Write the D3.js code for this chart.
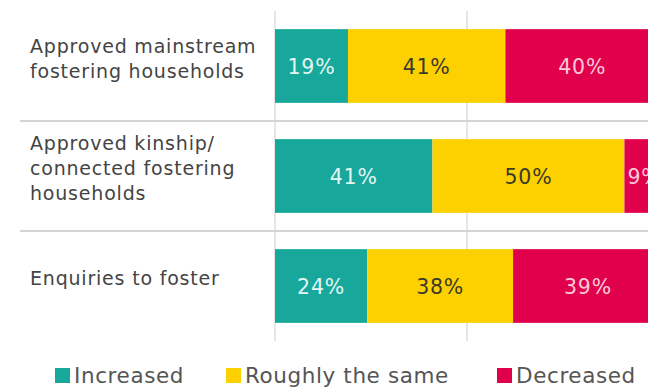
<!DOCTYPE html>
<html>
<head>
<meta charset="utf-8">
<script src="https://cdn.jsdelivr.net/npm/d3@7"></script>
<style>
  html, body { margin: 0; padding: 0; background: #fff; }
  svg { display: block; }
  text { font-family: "DejaVu Sans", "Noto Sans", sans-serif; }
</style>
</head>
<body>
<svg id="chart" width="648" height="389"></svg>
<script>
// Survey rows: share of services reporting each direction of change
const categories = [
  ["Approved mainstream", "fostering households"],
  ["Approved kinship/", "connected fostering", "households"],
  ["Enquiries to foster"]
];
const seriesNames = ["Increased", "Roughly the same", "Decreased"];
const increased = [19, 41, 24];
const roughlySame = [41, 50, 38];
const decreased = [40, 9, 39];
const gridTicks = [0, 50, 100];

const colors = ["#17a89b", "#fdd100", "#e1004c"];
const labelColors = ["#e3f6f4", "#3a3a2a", "#f9c9d8"];

const svg = d3.select("#chart");
const W = 648, H = 389;

const x = d3.scaleLinear().domain([0, 100]).range([275, 659]);
const y = d3.scaleBand().domain(d3.range(categories.length)).range([11, 341]).paddingInner(0.33).paddingOuter(0.165);

// vertical gridlines
svg.append("g").selectAll("line").data(gridTicks).join("line")
  .attr("x1", d => x(d)).attr("x2", d => x(d))
  .attr("y1", 11).attr("y2", 341)
  .attr("stroke", "#d6d6d6").attr("stroke-width", 1.2);

// horizontal row separators
const sepY = d3.range(1, categories.length).map(i => (y(i - 1) + y.bandwidth() + y(i)) / 2);
svg.append("g").selectAll("line").data(sepY).join("line")
  .attr("x1", 20).attr("x2", W)
  .attr("y1", d => d).attr("y2", d => d)
  .attr("stroke", "#d4d4d4").attr("stroke-width", 2);

// stacked series
const rows = categories.map((c, i) => ({ i, values: [increased[i], roughlySame[i], decreased[i]] }));
const stack = d3.stack().keys([0, 1, 2]).value((d, k) => d.values[k]);
const stacked = stack(rows);

const layers = svg.append("g").selectAll("g").data(stacked).join("g");
layers.selectAll("rect").data(d => d).join("rect")
  .attr("x", d => x(d[0]))
  .attr("width", d => x(d[1]) - x(d[0]))
  .attr("y", d => y(d.data.i))
  .attr("height", y.bandwidth())
  .attr("fill", function () { return colors[d3.select(this.parentNode).datum().key]; });

layers.selectAll("text").data(d => d.map(s => ({ s, k: d.key }))).join("text")
  .attr("x", d => {
    const w = x(d.s[1]) - x(d.s[0]);
    return w < 40 ? x(d.s[0]) + 3 : (x(d.s[0]) + x(d.s[1])) / 2;
  })
  .attr("y", d => y(d.s.data.i) + y.bandwidth() / 2)
  .attr("dy", "0.37em")
  .attr("text-anchor", d => (x(d.s[1]) - x(d.s[0]) < 40 ? "start" : "middle"))
  .attr("font-size", 20.5)
  .attr("letter-spacing", 0.8)
  .attr("fill", d => labelColors[d.k])
  .text(d => (d.s[1] - d.s[0]) + "%");

// category labels
const lineH = 25;
const catG = svg.append("g").selectAll("text").data(categories).join("text")
  .attr("x", 30)
  .attr("y", (d, i) => y(i) + y.bandwidth() / 2 - 1 - (d.length - 1) * lineH / 2)
  .attr("font-size", 19)
  .attr("letter-spacing", 0.8)
  .attr("fill", "#444");
catG.selectAll("tspan").data(d => d).join("tspan")
  .attr("x", 30)
  .attr("dy", (d, j) => j === 0 ? 0 : lineH)
  .text(d => d);

// legend
const legendX = [55, 226, 497];
const lg = svg.append("g").selectAll("g").data(seriesNames).join("g")
  .attr("transform", (d, i) => `translate(${legendX[i]},383)`);
lg.append("rect").attr("x", 0).attr("y", -15).attr("width", 15).attr("height", 15)
  .attr("fill", (d, i) => colors[i]);
lg.append("text").attr("x", 19)
  .attr("font-size", 21.5).attr("letter-spacing", 0.6).attr("fill", "#555")
  .text(d => d);
</script>
</body>
</html>
